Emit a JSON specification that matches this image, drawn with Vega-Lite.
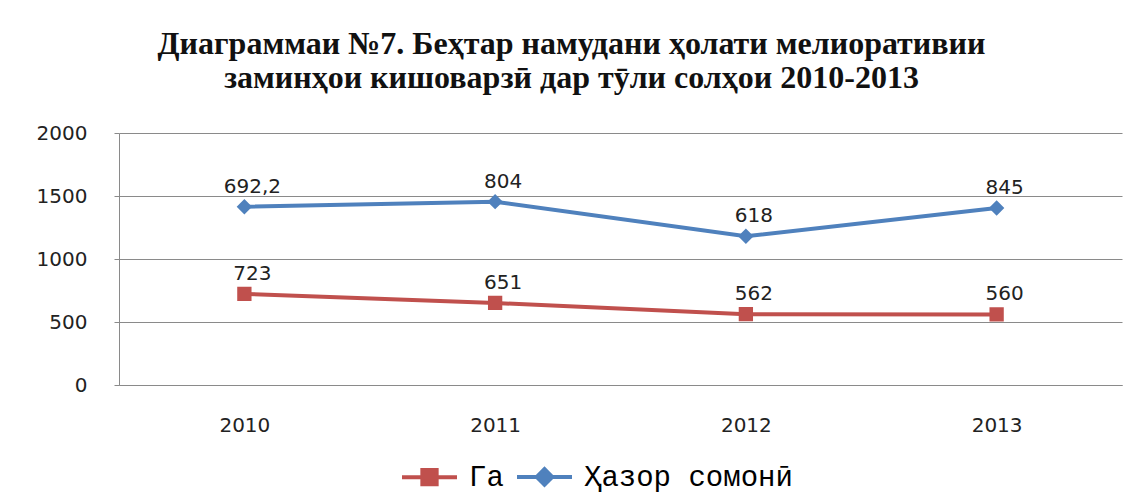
{
  "$schema": "https://vega.github.io/schema/vega-lite/v6.json",
  "width": 1003,
  "height": 252,
  "autosize": {"type": "none"},
  "padding": {"left": 119, "top": 133, "right": 5, "bottom": 107},
  "background": "white",
  "config": {
    "locale": {"number": {"decimal": ",", "thousands": " ", "grouping": [3], "currency": ["", ""]}},
    "view": {"stroke": null}
  },
  "title": {
    "text": ["Диаграммаи №7.  Беҳтар намудани ҳолати мелиоративии", "заминҳои кишоварзӣ дар тӯли солҳои 2010-2013"],
    "font": "Liberation Serif",
    "fontSize": 32,
    "fontWeight": "bold",
    "lineHeight": 34,
    "anchor": "middle",
    "dx": -49,
    "offset": 28,
    "color": "#111111"
  },
  "data": {
    "values": [
      {"year": "2010", "series": "Га", "value": 723},
      {"year": "2011", "series": "Га", "value": 651},
      {"year": "2012", "series": "Га", "value": 562},
      {"year": "2013", "series": "Га", "value": 560},
      {"year": "2010", "series": "Ҳазор сомонӣ", "value": 692.2},
      {"year": "2011", "series": "Ҳазор сомонӣ", "value": 804},
      {"year": "2012", "series": "Ҳазор сомонӣ", "value": 618},
      {"year": "2013", "series": "Ҳазор сомонӣ", "value": 845}
    ]
  },
  "encoding": {
    "x": {
      "field": "year", "type": "ordinal",
      "scale": {"type": "point", "padding": 0.5},
      "axis": {"title": null, "labelAngle": 0, "labelFont": "DejaVu Sans", "labelFontSize": 20, "labelColor": "#222222", "labelPadding": 30, "ticks": false, "domainColor": "#8a8a8a", "grid": false}
    },
    "y": {
      "field": "value", "type": "quantitative", "stack": "zero",
      "scale": {"domain": [0, 2000]},
      "axis": {"title": null, "values": [0, 500, 1000, 1500, 2000], "format": "d", "grid": true, "gridColor": "#8a8a8a", "domainColor": "#8a8a8a", "tickColor": "#8a8a8a", "tickSize": 5, "labelFont": "DejaVu Sans", "labelFontSize": 20, "labelColor": "#222222", "labelPadding": 27}
    },
    "order": {"field": "series", "type": "nominal", "sort": "ascending"},
    "color": {
      "field": "series", "type": "nominal",
      "scale": {"domain": ["Га", "Ҳазор сомонӣ"], "range": ["#C0504D", "#4F81BD"]},
      "legend": {
        "orient": "none", "legendX": 281, "legendY": 314, "direction": "horizontal", "title": null,
        "symbolSize": 3025, "symbolStrokeWidth": 4,
        "labelFont": "Liberation Mono", "labelFontSize": 29, "labelColor": "#000000", "labelOffset": 10, "columnPadding": 5,
        "labelLimit": 400,
        "encode": {
          "symbols": {
            "update": {
              "stroke": {"scale": "color", "field": "value"},
              "strokeWidth": {"value": 4}
            }
          }
        }
      }
    }
  },
  "layer": [
    {"mark": {"type": "line", "strokeWidth": 4}},
    {
      "mark": {"type": "point", "filled": true, "opacity": 1},
      "encoding": {
        "shape": {"field": "series", "type": "nominal", "scale": {"domain": ["Га", "Ҳазор сомонӣ"], "range": ["M-1,0L1,0M-0.26,-0.26L0.26,-0.26L0.26,0.26L-0.26,0.26Z", "M-1,0L1,0M-0.28,0L0,-0.28L0.28,0L0,0.28Z"]}},
        "size": {"value": 3025}
      }
    },
    {
      "mark": {"type": "text", "fontSize": 20, "font": "DejaVu Sans", "dy": -20, "dx": 8, "baseline": "middle"},
      "encoding": {
        "text": {"field": "value", "type": "quantitative", "format": "~g"},
        "color": {"value": "#222222"},
        "detail": {"field": "series", "type": "nominal"}
      }
    }
  ]
}
